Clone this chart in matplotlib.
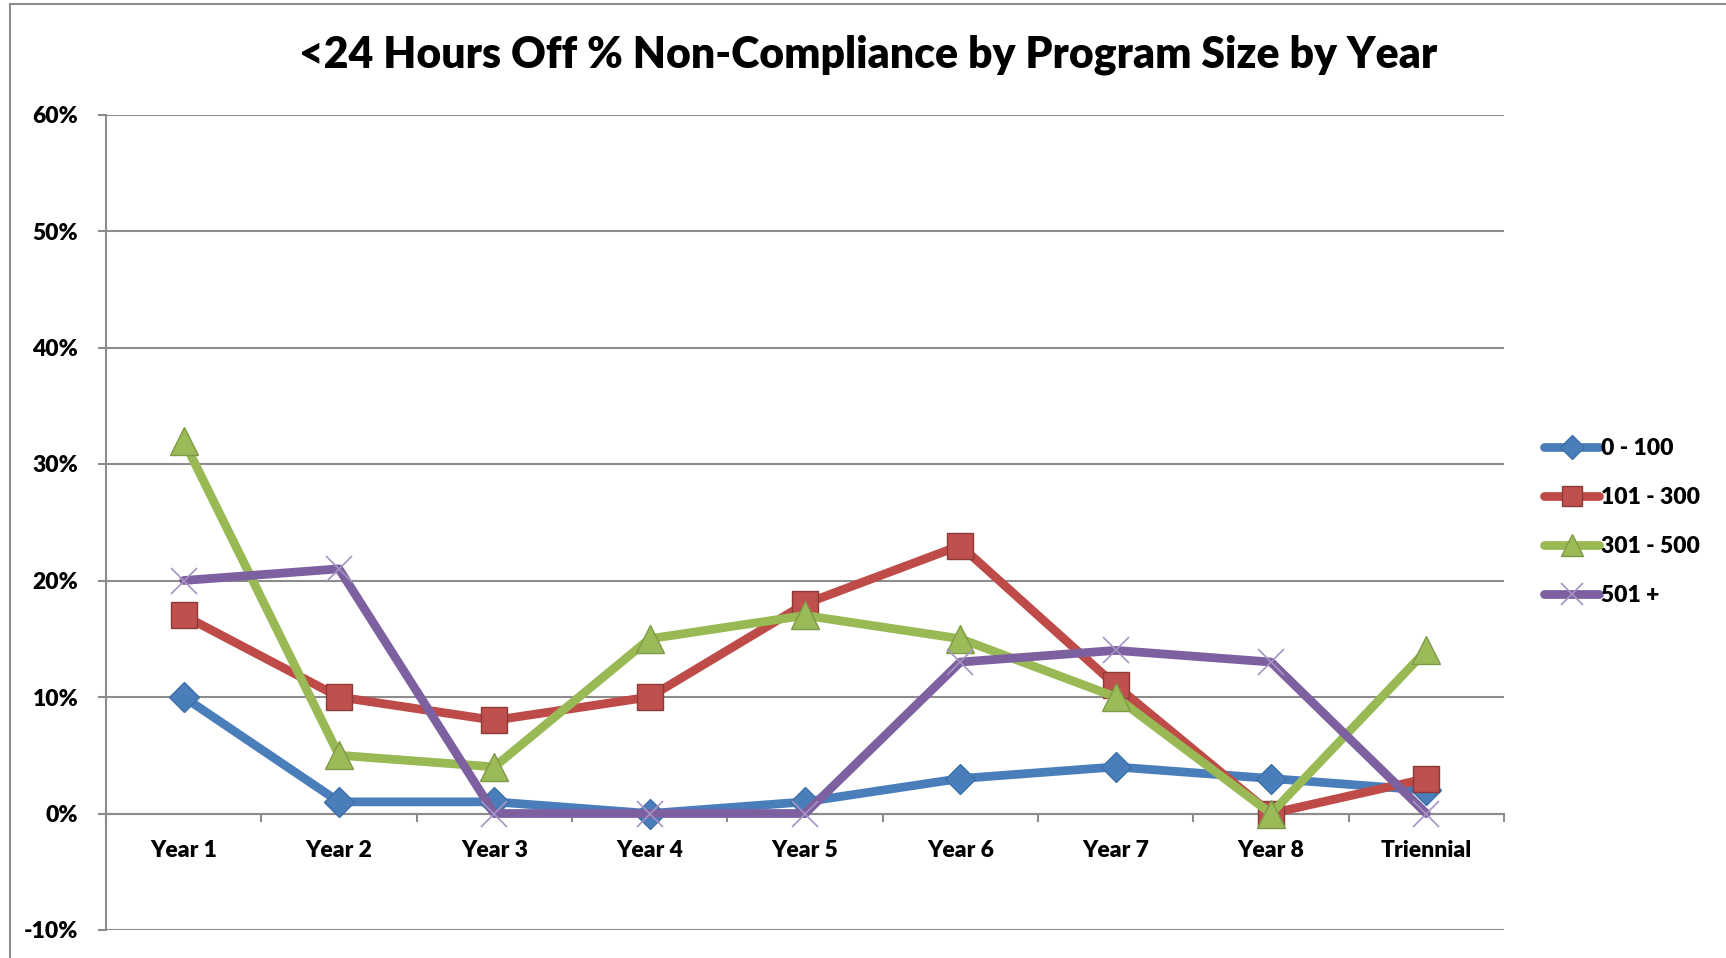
import matplotlib
matplotlib.use("Agg")
import matplotlib.pyplot as plt
from matplotlib.lines import Line2D
from matplotlib.ticker import FixedLocator, FuncFormatter

categories = ["Year 1", "Year 2", "Year 3", "Year 4", "Year 5", "Year 6", "Year 7", "Year 8", "Triennial"]
s_0_100 = [10, 1, 1, 0, 1, 3, 4, 3, 2]
s_101_300 = [17, 10, 8, 10, 18, 23, 11, 0, 3]
s_301_500 = [32, 5, 4, 15, 17, 15, 10, 0, 14]
s_501_plus = [20, 21, 0, 0, 0, 13, 14, 13, 0]
series_names = ["0 - 100", "101 - 300", "301 - 500", "501 +"]
y_ticks = [-10, 0, 10, 20, 30, 40, 50, 60]

FONT = "Lato"
W, H = 1726, 958
fig = plt.figure(figsize=(W / 100, H / 100), dpi=100)
ax = fig.add_axes([106 / W, 1 - 930 / H, (1504 - 106) / W, (930 - 114.5) / H])

xs = [i + 0.5 for i in range(len(categories))]
styles = [
    dict(color="#4A7EBB", marker="D", ms=15, mfc="#4A7EBB", mec="#3D6FA8", mew=1),
    dict(color="#BE4B48", marker="s", ms=18.5, mfc="#C0504D", mec="#8C3A38", mew=1),
    dict(color="#98B954", marker="^", ms=20, mfc="#9BBB59", mec="#7E9A45", mew=1),
    dict(color="#7D60A0", marker="x", ms=19, mfc="none", mec="#A593C4", mew=1.2),
]
data = [s_0_100, s_101_300, s_301_500, s_501_plus]
for vals, st, name in zip(data, styles, series_names):
    ax.plot(xs, vals, lw=6.3, solid_capstyle="round", solid_joinstyle="round",
            label=name, zorder=3, clip_on=False, **st)

ax.set_xlim(0, len(categories))
ax.set_ylim(-10, 60)
ax.yaxis.set_major_locator(FixedLocator(y_ticks))
ax.yaxis.set_major_formatter(FuncFormatter(lambda v, p: f"{v:.0f}%".replace("\u2212", "-")))
ax.grid(axis="y", color="#8C8C8C", lw=1.5, zorder=0)
ax.set_axisbelow(True)

ax.spines["top"].set_visible(False)
ax.spines["right"].set_visible(False)
ax.spines["left"].set_color("#8C8C8C")
ax.spines["left"].set_linewidth(1.5)
ax.spines["bottom"].set_position(("data", 0))
ax.spines["bottom"].set_color("#8C8C8C")
ax.spines["bottom"].set_linewidth(1.5)

ax.set_xticks(range(len(categories) + 1))
ax.set_xticklabels([])
ax.set_xticks(xs, minor=True)
ax.set_xticklabels(categories, minor=True)
ax.tick_params(axis="x", which="major", length=6, width=1.5, color="#8C8C8C", direction="out")
ax.tick_params(axis="x", which="minor", length=0, pad=19)
ax.tick_params(axis="y", length=6, width=1.5, color="#8C8C8C", pad=14)
for lab in ax.get_xticklabels(minor=True) + ax.get_yticklabels():
    lab.set_fontfamily(FONT)
    lab.set_fontweight("heavy")
    lab.set_fontsize(16.5)

fig.text(868 / W, 1 - 55 / H, "<24 Hours Off % Non-Compliance by Program Size by Year",
         ha="center", va="center", fontsize=30.8, fontweight="heavy", family=FONT)

leg = ax.legend(loc="center left", bbox_to_anchor=(1544 / W, 1 - 522 / H),
                bbox_transform=fig.transFigure, frameon=False, borderpad=0,
                borderaxespad=0, handlelength=2.4, handletextpad=0.1,
                labelspacing=1.22, prop=dict(family=FONT, weight="heavy", size=16.5),
                markerscale=0.8)

# outer chart frame (top and left edges visible)
fig.add_artist(Line2D([10 / W, 10 / W], [0, 1 - 4 / H], transform=fig.transFigure,
                      color="#8C8C8C", lw=1.5))
fig.add_artist(Line2D([10 / W, 1], [1 - 4 / H, 1 - 4 / H], transform=fig.transFigure,
                      color="#8C8C8C", lw=1.5))

fig.savefig("out.png", dpi=100)
